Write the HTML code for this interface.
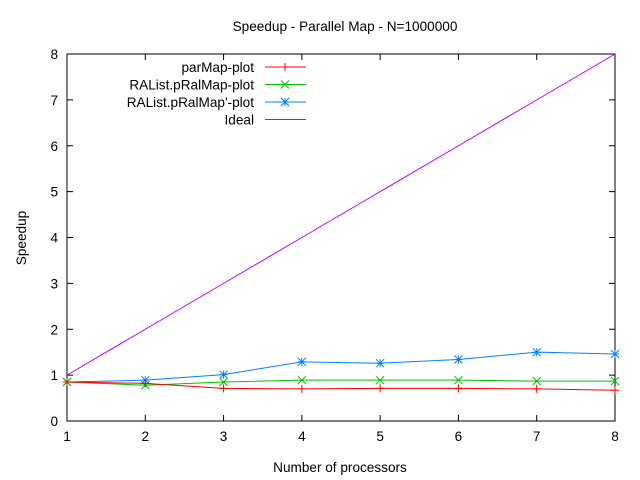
<!DOCTYPE html>
<html><head><meta charset="utf-8"><style>
body{margin:0;background:#fff}
svg{display:block;font-family:"Liberation Sans",sans-serif;font-size:13.6px}
</style></head><body>
<svg id="chart" width="640" height="480">
<rect width="640" height="480" fill="#fff"/>
<text x="345" y="31" text-anchor="middle">Speedup - Parallel Map - N=1000000</text>
<text x="340" y="472" text-anchor="middle">Number of processors</text>
<text transform="translate(26,238) rotate(-90)" text-anchor="middle">Speedup</text>
<g id="axes"></g>
<g id="series"></g>
<g id="legend"></g>
</svg>
<script>
const procs=[1,2,3,4,5,6,7,8];
const parMap=[0.85,0.82,0.71,0.70,0.71,0.71,0.70,0.67];
const pRalMap=[0.85,0.78,0.85,0.89,0.89,0.89,0.87,0.87];
const pRalMapP=[0.85,0.89,1.01,1.29,1.26,1.34,1.50,1.46];
const ideal=[1,2,3,4,5,6,7,8];
const xTicks=[1,2,3,4,5,6,7,8];
const yTicks=[0,1,2,3,4,5,6,7,8];
const seriesNames=["parMap-plot","RAList.pRalMap-plot","RAList.pRalMap'-plot","Ideal"];
const NS="http://www.w3.org/2000/svg";
const L=67,R=615,T=54,B=421;
const xs=v=>L+(v-1)/7*(R-L);
const ys=v=>B-v/8*(B-T);
function mk(tag,attrs,parent){const e=document.createElementNS(NS,tag);for(const k in attrs)e.setAttribute(k,attrs[k]);parent.appendChild(e);return e;}
const ax=document.getElementById('axes');
const frame=mk('rect',{x:L,y:T,width:R-L,height:B-T,fill:'none',stroke:'#000','stroke-width':1},ax);


xTicks.forEach(v=>{
  const x=xs(v);
  mk('line',{x1:x,y1:B,x2:x,y2:B-6,stroke:'#000'},ax);
  mk('line',{x1:x,y1:T,x2:x,y2:T+6,stroke:'#000'},ax);
  const t=mk('text',{x:x,y:B+20,'text-anchor':'middle'},ax);t.textContent=v;
  
  
});
yTicks.forEach(v=>{
  const y=ys(v);
  mk('line',{x1:L,y1:y,x2:L+6,y2:y,stroke:'#000'},ax);
  mk('line',{x1:R,y1:y,x2:R-6,y2:y,stroke:'#000'},ax);
  const t=mk('text',{x:L-9,y:y+5,'text-anchor':'end'},ax);t.textContent=v;
  
  
});
const sg=document.getElementById('series');
function marker(type,x,y,c,g){
  if(type==='plus'){mk('path',{d:`M${x-4},${y}H${x+4}M${x},${y-4}V${y+4}`,stroke:c,fill:'none'},g);}
  else if(type==='x'){mk('path',{d:`M${x-4},${y-4}L${x+4},${y+4}M${x-4},${y+4}L${x+4},${y-4}`,stroke:c,fill:'none'},g);}
  else if(type==='star'){mk('path',{d:`M${x-4},${y}H${x+4}M${x},${y-4}V${y+4}M${x-4},${y-4}L${x+4},${y+4}M${x-4},${y+4}L${x+4},${y-4}`,stroke:c,fill:'none'},g);}
}
const defs=[[parMap,'#ff0000','plus','parmap-series'],[pRalMap,'#00c000','x','pralmap-series'],[pRalMapP,'#0080ff','star','pralmap-prime-series'],[ideal,'#c000ff',null,'ideal-series']];
defs.slice().reverse().forEach(([d,c,m,n])=>{
  const g=mk('g',{},sg);
  
  
  mk('polyline',{points:procs.map((p,i)=>xs(p)+','+ys(d[i])).join(' '),fill:'none',stroke:c,'stroke-width':1},g);
  if(m)procs.forEach((p,i)=>marker(m,xs(p),ys(d[i]),c,g));
});
const lg=document.getElementById('legend');
defs.forEach(([d,c,m],i)=>{
  const y=67+i*17.5;
  const g=mk('g',{},lg);
  
  
  const t=mk('text',{x:254,y:y+5,'text-anchor':'end'},g);t.textContent=seriesNames[i];
  mk('line',{x1:265,y1:y,x2:306,y2:y,stroke:c,'stroke-width':1},g);
  if(m)marker(m,285,y,c,g);
});
</script>
</body></html>
